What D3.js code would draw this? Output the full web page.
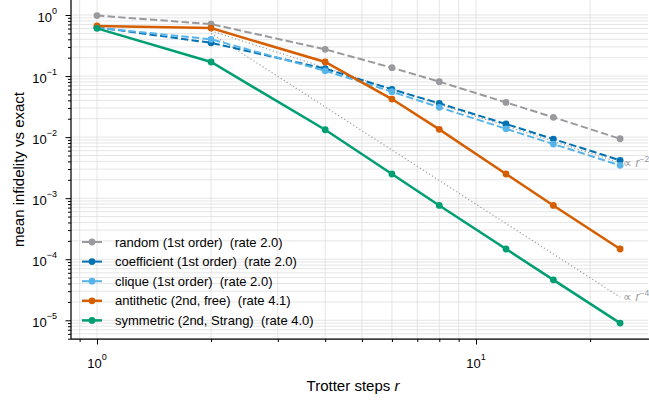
<!DOCTYPE html>
<html>
<head>
<meta charset="utf-8">
<script src="https://cdn.jsdelivr.net/npm/d3@7"></script>
<style>
  body { margin: 0; background: #fff; }
  svg { display: block; font-family: "Liberation Sans", Arial, sans-serif; }
</style>
</head>
<body>
<div id="container"></div>
<script>
const w = 649;
const h = 400;

// data
const steps = [1, 2, 4, 6, 8, 12, 16, 24];
const random = [0.98, 0.71, 0.274, 0.137, 0.081, 0.037, 0.0211, 0.0094];
const coefficient = [0.63, 0.35, 0.132, 0.0607, 0.0358, 0.0164, 0.0093, 0.00417];
const clique = [0.62, 0.40, 0.122, 0.0555, 0.0308, 0.0137, 0.0077, 0.00345];
const antithetic = [0.66, 0.61, 0.170, 0.042, 0.0134, 0.00249, 0.00076, 0.000147];
const symmetric = [0.605, 0.17, 0.0132, 0.00249, 0.00076, 0.000147, 0.000046, 0.000009];
const labels = ['random (1st order)  (rate 2.0)', 'coefficient (1st order)  (rate 2.0)',
  'clique (1st order)  (rate 2.0)', 'antithetic (2nd, free)  (rate 4.1)',
  'symmetric (2nd, Strang)  (rate 4.0)'];
const refSteps = [2, 24];
const ref2 = [0.55, 0.0038];
const ref4 = [0.5, 0.000024];
const refLabels = ['−2', '−4'];
const xTicks = [1, 10];
const yTicks = [1, 1e-1, 1e-2, 1e-3, 1e-4, 1e-5];

const series = [
  {label: labels[0], values: random, color: '#9a9a9e', dash: '7.4,3.2', width: 2},
  {label: labels[1], values: coefficient, color: '#0072B2', dash: '7.4,3.2', width: 2},
  {label: labels[2], values: clique, color: '#56B4E9', dash: '7.4,3.2', width: 2},
  {label: labels[3], values: antithetic, color: '#D55E00', dash: null, width: 2.5},
  {label: labels[4], values: symmetric, color: '#009E73', dash: null, width: 2.5}
];

const plotLeft = 71, plotRight = 648, plotTop = 0, plotBottom = 339;

const svg = d3.select('#container')
  .append('svg')
  .attr('width', w)
  .attr('height', h);

const xScale = d3.scaleLog().domain([0.854, 28.43]).range([plotLeft, plotRight]);
const yScale = d3.scaleLog().domain([4.94e-6, 1.761]).range([plotBottom, plotTop]);

// grid, major and minor
const xGrid = xScale.ticks().filter(d => d >= xScale.domain()[0] && d <= xScale.domain()[1]);
const yGrid = yScale.ticks().filter(d => d >= yScale.domain()[0] && d <= yScale.domain()[1]);
svg.append('g').selectAll('line')
  .data(xGrid)
  .enter()
  .append('line')
  .attr('x1', d => xScale(d)).attr('x2', d => xScale(d))
  .attr('y1', plotTop).attr('y2', plotBottom)
  .attr('stroke', '#dedede').attr('stroke-width', 0.8);
svg.append('g').selectAll('line')
  .data(yGrid)
  .enter()
  .append('line')
  .attr('x1', plotLeft).attr('x2', plotRight)
  .attr('y1', d => yScale(d)).attr('y2', d => yScale(d))
  .attr('stroke', '#dedede').attr('stroke-width', 0.8);

// reference slopes
const line = d3.line().x(d => xScale(d[0])).y(d => yScale(d[1]));
[ref2, ref4].forEach((ref, i) => {
  const pts = refSteps.map((s, j) => [s, ref[j]]);
  svg.append('path')
    .attr('d', line(pts))
    .attr('fill', 'none')
    .attr('stroke', '#9c9c9c')
    .attr('stroke-width', 1.2)
    .attr('stroke-dasharray', '1.2,2.4');
  const t = svg.append('text')
    .attr('x', xScale(refSteps[1]) + 3)
    .attr('y', yScale(ref[1]) + 4)
    .attr('fill', '#999')
    .style('font-size', '12px');
  t.append('tspan').text('∝ ');
  t.append('tspan').text('r').style('font-style', 'italic');
  t.append('tspan').text(refLabels[i]).attr('dy', -5).style('font-size', '8.5px');
});

// series
series.forEach(s => {
  const pts = steps.map((r, i) => [r, s.values[i]]);
  svg.append('path')
    .attr('d', line(pts))
    .attr('fill', 'none')
    .attr('stroke', s.color)
    .attr('stroke-width', s.width)
    .attr('stroke-dasharray', s.dash);
  svg.append('g').selectAll('circle')
    .data(pts)
    .enter()
    .append('circle')
    .attr('cx', d => xScale(d[0]))
    .attr('cy', d => yScale(d[1]))
    .attr('r', 3.4)
    .attr('fill', s.color);
});

// axes
const xAxis = d3.axisBottom(xScale).tickValues(xGrid).tickSize(3).tickFormat('');
const yAxis = d3.axisLeft(yScale).tickValues(yGrid).tickSize(3).tickFormat('');
const gx = svg.append('g')
  .attr('transform', `translate(0,${plotBottom})`)
  .call(xAxis);
const gy = svg.append('g')
  .attr('transform', `translate(${plotLeft},0)`)
  .call(yAxis);
[gx, gy].forEach(g => {
  g.select('.domain').attr('stroke', '#000').attr('stroke-width', 1.25);
  g.selectAll('.tick line').attr('stroke', '#000').attr('stroke-width', 1);
});
gx.selectAll('.tick line').filter(d => xTicks.includes(d)).attr('y2', 5.5);
gy.selectAll('.tick line').filter(d => yTicks.includes(d)).attr('x2', -5.5);
gx.select('.domain').attr('d', `M${plotLeft},0H${w}`);
gy.select('.domain').attr('d', `M0,${plotTop}V${plotBottom}`);

xTicks.forEach(d => {
  const t = svg.append('text')
    .attr('x', xScale(d))
    .attr('y', 368)
    .attr('text-anchor', 'middle')
    .style('font-size', '13px');
  t.append('tspan').text('10');
  t.append('tspan').text(String(Math.round(Math.log10(d))))
    .attr('dy', -8).style('font-size', '9px');
});
yTicks.forEach(d => {
  const e = Math.round(Math.log10(d));
  const t = svg.append('text')
    .attr('x', 57)
    .attr('y', yScale(d) + 6.5)
    .attr('text-anchor', 'end')
    .style('font-size', '13px');
  t.append('tspan').text('10');
  t.append('tspan').text(e < 0 ? '−' + (-e) : String(e))
    .attr('dy', -8).style('font-size', '9px');
});

// axis labels
const xl = svg.append('text')
  .attr('x', 353)
  .attr('y', 391)
  .attr('text-anchor', 'middle')
  .style('font-size', '15px');
xl.append('tspan').text('Trotter steps ');
xl.append('tspan').text('r').style('font-style', 'italic');
svg.append('text')
  .text('mean infidelity vs exact')
  .attr('transform', `translate(24,${(plotTop + plotBottom) / 2}) rotate(-90)`)
  .attr('text-anchor', 'middle')
  .style('font-size', '15px');

// legend
const legend = svg.append('g').attr('transform', 'translate(82,242)');
series.forEach((s, i) => {
  const row = legend.append('g').attr('transform', `translate(0,${i * 19.6})`);
  row.append('line')
    .attr('x1', 0).attr('x2', 20)
    .attr('stroke', s.color)
    .attr('stroke-width', s.width);
  row.append('circle').attr('cx', 10).attr('r', 3.4).attr('fill', s.color);
  row.append('text')
    .text(s.label)
    .attr('x', 33)
    .attr('y', 4.5)
    .attr('xml:space', 'preserve')
    .style('white-space', 'pre')
    .style('font-size', '13px');
});
</script>
</body>
</html>
